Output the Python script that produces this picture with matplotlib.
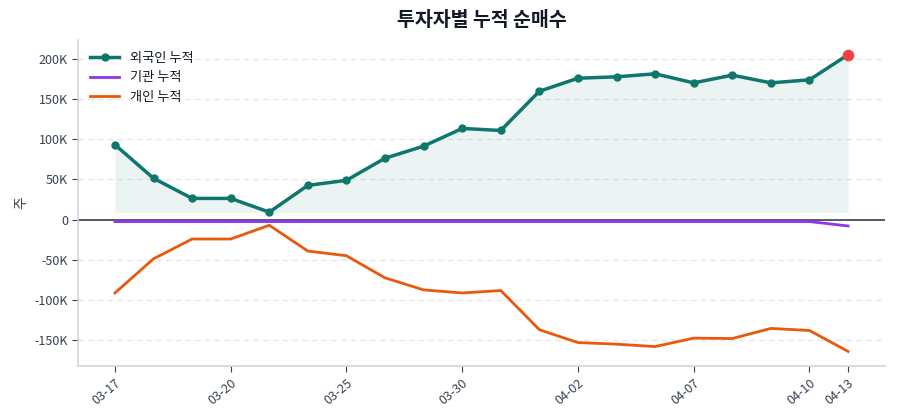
import matplotlib
matplotlib.use("Agg")
import matplotlib.pyplot as plt
import numpy as np

plt.rcParams['font.family'] = ['Noto Sans CJK KR', 'DejaVu Sans']
plt.rcParams['axes.unicode_minus'] = False

dates = ["03-17", "03-18", "03-19", "03-20", "03-23", "03-24", "03-25", "03-26",
         "03-27", "03-30", "03-31", "04-01", "04-02", "04-03", "04-06", "04-07",
         "04-08", "04-09", "04-10", "04-13"]
foreign = [93000, 51300, 26300, 26300, 9200, 42500, 48800, 76300, 91300, 113300,
           110800, 159600, 175800, 177500, 181300, 170000, 179600, 170000, 173800, 205000]
institution = [-2500] * 19 + [-8000]
individual = [-91300, -48800, -24200, -24200, -7100, -39200, -45000, -72500, -87500, -91300,
              -88300, -137000, -153000, -155000, -158000, -147500, -148000, -135400, -138000, -164000]
tick_idx = [0, 3, 6, 9, 12, 15, 18, 19]

teal = "#0f766e"
purple = "#9333ea"
orange = "#ea580c"
red = "#ef4444"
text_c = "#374151"

fig, ax = plt.subplots(figsize=(9, 4.2), dpi=100)
x = np.arange(len(dates))
fv = np.array(foreign)

ax.fill_between(x, fv, fv.min(), color=teal, alpha=0.08, linewidth=0)
ax.plot(x, fv, color=teal, lw=2.5, marker="o", ms=5, label="외국인 누적", zorder=4)
ax.plot(x, institution, color=purple, lw=2, label="기관 누적", zorder=3)
ax.plot(x, individual, color=orange, lw=2, label="개인 누적", zorder=3)
ax.scatter([x[-1]], [fv[-1]], s=55, color=red, zorder=5)
ax.axhline(0, color=text_c, lw=1.2, zorder=2)

ax.set_xticks([x[i] for i in tick_idx])
ax.set_xticklabels([dates[i] for i in tick_idx], rotation=40, ha="right", rotation_mode="anchor")
ax.set_yticks([-150000, -100000, -50000, 0, 50000, 100000, 150000, 200000])
ax.set_yticklabels(["-150K", "-100K", "-50K", "0", "50K", "100K", "150K", "200K"])
ax.tick_params(colors=text_c, labelsize=9, length=4)
for t in ax.get_xticklines() + ax.get_yticklines():
    t.set_color("#9ca3af")

ax.set_ylabel("주", color=text_c, fontsize=10)
ax.set_title("투자자별 누적 순매수", fontsize=14, fontweight="bold", color="#111827", pad=10)

ax.grid(axis="y", linestyle=(0, (4, 3)), color="#e5e7eb", lw=1)
ax.set_axisbelow(True)
for s in ["top", "right"]:
    ax.spines[s].set_visible(False)
for s in ["left", "bottom"]:
    ax.spines[s].set_color("#d1d5db")
    ax.spines[s].set_linewidth(1.2)

leg = ax.legend(loc="upper left", frameon=False, fontsize=9.5, handlelength=2.2)
for t in leg.get_texts():
    t.set_color("#111827")

fig.subplots_adjust(left=0.087, right=0.983, top=0.905, bottom=0.128)
fig.savefig("out.png", dpi=100)
